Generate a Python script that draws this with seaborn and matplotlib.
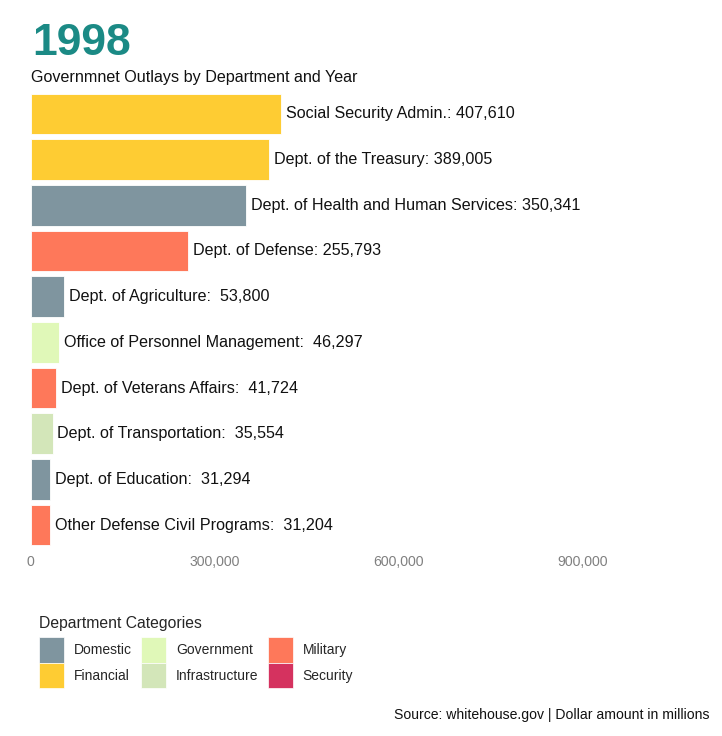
import matplotlib
matplotlib.use("Agg")
import matplotlib.pyplot as plt
import matplotlib.ticker as mtick
from matplotlib.patches import Patch
import pandas as pd
import seaborn as sns


# データ
year = "1998"
departments = [
    "Social Security Admin.",
    "Dept. of the Treasury",
    "Dept. of Health and Human Services",
    "Dept. of Defense",
    "Dept. of Agriculture",
    "Office of Personnel Management",
    "Dept. of Veterans Affairs",
    "Dept. of Transportation",
    "Dept. of Education",
    "Other Defense Civil Programs",
]
outlays = [407610, 389005, 350341, 255793, 53800, 46297, 41724, 35554, 31294, 31204]
categories = [
    "Financial", "Financial", "Domestic", "Military", "Domestic",
    "Government", "Military", "Infrastructure", "Domestic", "Military",
]
category_order = ["Domestic", "Financial", "Government", "Infrastructure", "Military", "Security"]
category_colors = ["#7f959f", "#fecc33", "#e0f8b8", "#d3e6b9", "#fe785a", "#d5325f"]
x_ticks = [0, 300000, 600000, 900000]

df = pd.DataFrame({"department": departments, "outlay": outlays, "category": categories})
palette = dict(zip(category_order, category_colors))

sns.set_theme(style="white")
plt.rcParams["font.family"] = ["Liberation Sans", "DejaVu Sans"]

W, H = 722, 736
fig = plt.figure(figsize=(W / 100, H / 100), dpi=100, facecolor="white")
ax = fig.add_axes([30.7 / W, 1 - 548 / H, (715 - 30.7) / W, 457 / H])

sns.barplot(data=df, y="department", x="outlay", hue="category",
            hue_order=category_order, palette=palette, dodge=False,
            width=0.89, saturation=1, edgecolor="white", linewidth=0.6,
            legend=False, ax=ax)

# バーのラベル
for i, (name, v) in enumerate(zip(departments, outlays)):
    ax.annotate(f"{name}: {v:>7,}", xy=(v, i), xytext=(3.5, 0),
                textcoords="offset points", ha="left", va="center",
                fontsize=11.6, color="#111111")

ax.set_xlim(0, 1115000)
ax.set_ylim(9.5, -0.5)
ax.set_xticks(x_ticks)
ax.xaxis.set_major_formatter(mtick.FuncFormatter(lambda x, _: f"{int(x):,}"))
ax.tick_params(axis="x", length=0, pad=5, labelsize=10.2, labelcolor="#808080")
ax.set_yticks([])
ax.set_xlabel("")
ax.set_ylabel("")
sns.despine(ax=ax, left=True, bottom=True)

# タイトル
fig.text(32 / W, 1 - 55 / H, year, fontsize=32, fontweight="bold",
         color="#1b8a85", va="baseline", ha="left")
fig.text(31 / W, 1 - 82 / H, "Governmnet Outlays by Department and Year",
         fontsize=11.6, color="#111111", va="baseline", ha="left")
fig.text(710 / W, 1 - 719 / H, "Source: whitehouse.gov | Dollar amount in millions",
         fontsize=10.1, color="#111111", va="baseline", ha="right")

# 凡例
handles = [Patch(facecolor=c, edgecolor="white", linewidth=0.5) for c in category_colors]
leg = fig.legend(handles, category_order, ncol=3, loc="upper left",
                 bbox_to_anchor=(39 / W, 1 - 616 / H), frameon=False, fontsize=10,
                 title="Department Categories", title_fontsize=11.3, alignment="left",
                 handlelength=1.8, handleheight=2.46, labelspacing=0,
                 handletextpad=0.72, columnspacing=0.65, borderpad=0, borderaxespad=0)
leg._legend_box.sep = 4.5

fig.savefig("out.png", dpi=100)
